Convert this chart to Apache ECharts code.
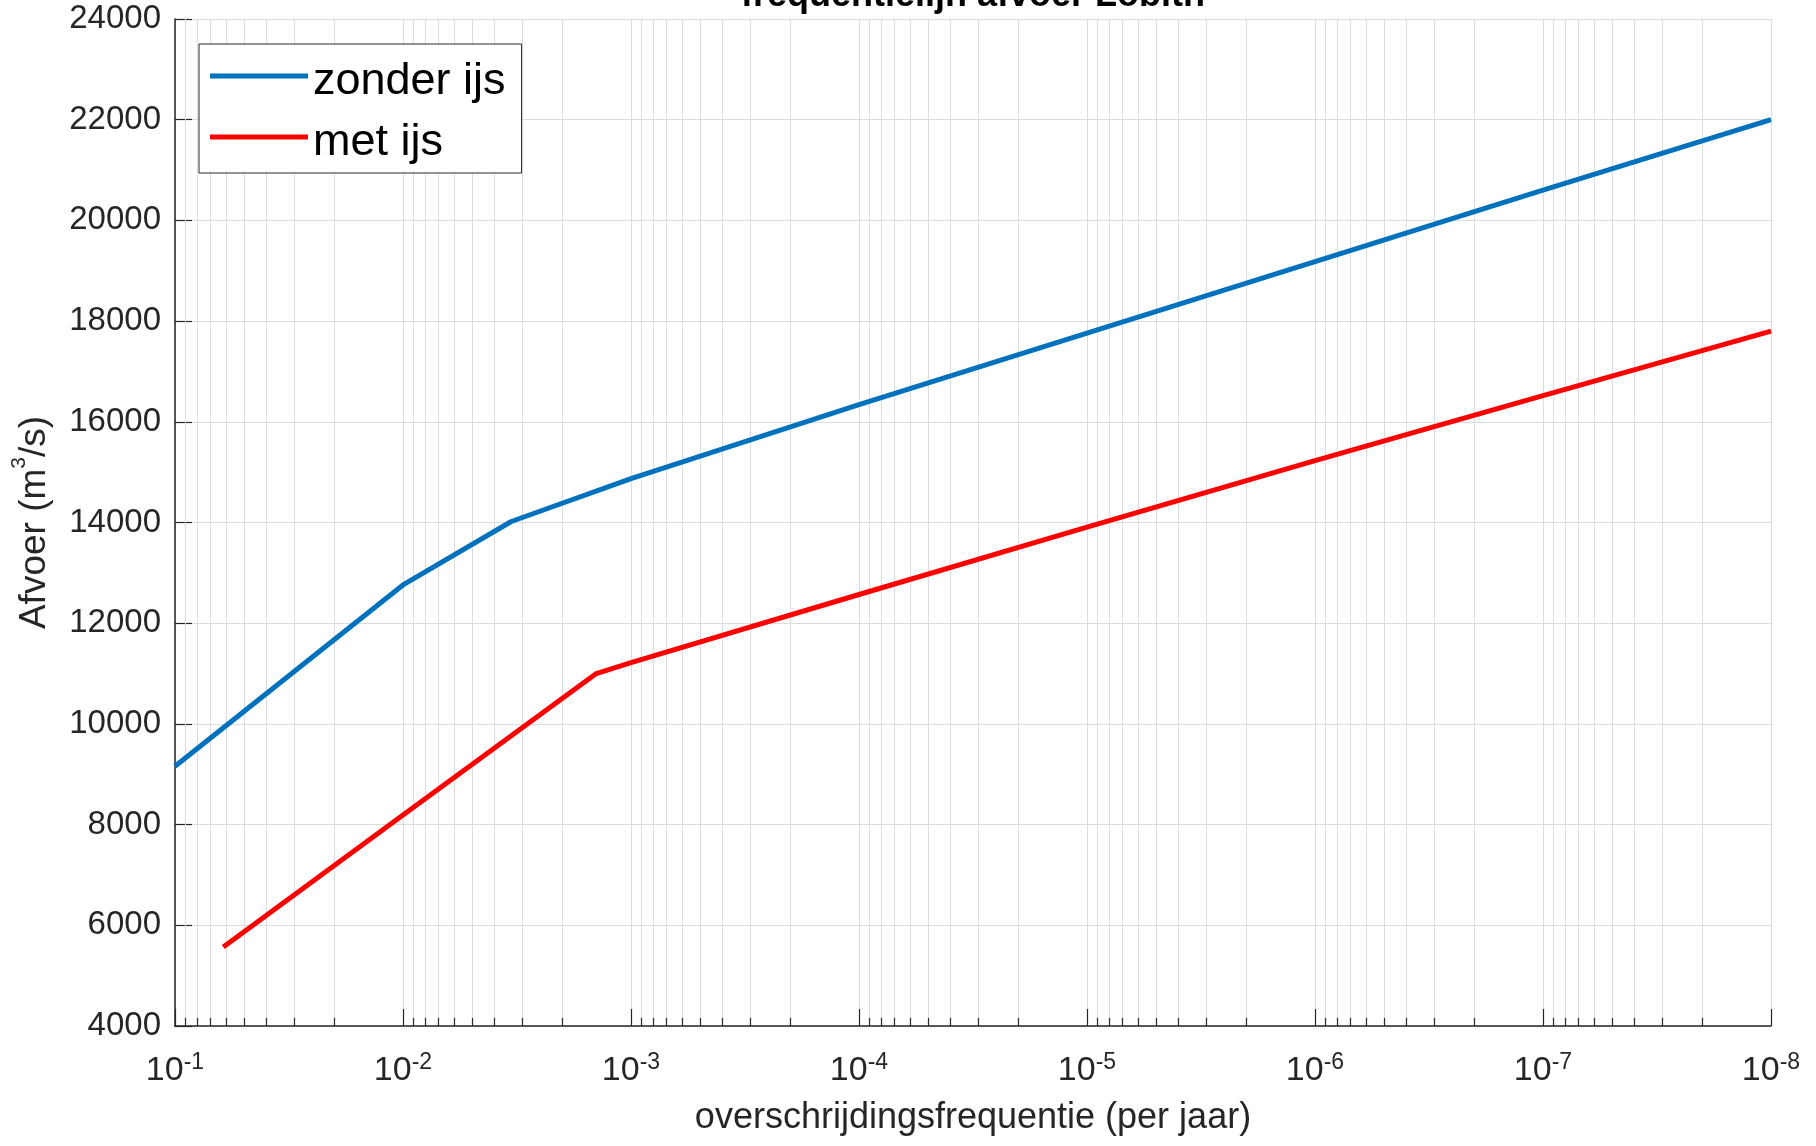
<!DOCTYPE html>
<html>
<head>
<meta charset="utf-8">
<script src="https://cdn.jsdelivr.net/npm/echarts@6/dist/echarts.min.js"></script>
<style>
html,body{margin:0;padding:0;background:#fff;}
#chart{width:1816px;height:1146px;}
</style>
</head>
<body>
<div id="chart"></div>
<script>
// ---- data ----
const titleText = 'frequentielijn afvoer Lobith';
const xAxisTitle = 'overschrijdingsfrequentie (per jaar)';
const seriesNames = ['zonder ijs', 'met ijs'];
const zonderFreq = [1e-1, 1e-2, 3.35e-3, 1e-3, 1e-4, 1e-5, 1e-6, 1e-7, 1e-8];
const zonderQ    = [9160, 12760, 14020, 14870, 16340, 17760, 19180, 20600, 22000];
const metFreq    = [6.14e-2, 1e-2, 1.42e-3, 1e-3, 1e-4, 1e-5, 1e-6, 1e-7, 1e-8];
const metQ       = [5570, 8190, 11000, 11215, 12570, 13910, 15230, 16520, 17800];
const yMin = 4000, yMax = 24000, yStep = 2000;
const xMinExp = -8, xMaxExp = -1;
const minorMultipliers = [2, 3, 4, 5, 6, 7, 8, 9];

// ---- helpers ----
const FONT = '"Liberation Sans", Arial, Helvetica, sans-serif';
const AX = '#262626';
const GRID = '#dcdcdc';
const zip = (xs, ys) => xs.map((x, i) => [x, ys[i]]);
const minorTicks = [];
for (let e = xMinExp; e < xMaxExp; e++) {
  minorMultipliers.forEach(k => minorTicks.push([k * Math.pow(10, e), yMin]));
}

const chart = echarts.init(document.getElementById('chart'), null, {renderer: 'canvas'});
chart.setOption({
  animation: false,
  backgroundColor: '#fff',
  grid: {left: 175, right: 45, top: 19, bottom: 120, containLabel: false},
  graphic: [{
    type: 'text', x: 973, y: -4, z: 10,
    style: {text: titleText, x: 0, y: 0, align: 'center', verticalAlign: 'middle',
      font: 'bold 36px ' + FONT, fill: '#000'}
  }],
  legend: {
    data: seriesNames,
    orient: 'vertical',
    left: 199, top: 44,
    padding: [14, 16, 6, 11],
    // bar sits in the upper part of the icon box so the line is slightly above the text centre
    icon: 'path://M0,0H98V5H0Z M0,17L0.001,17',
    itemWidth: 98, itemHeight: 17, itemGap: 13,
    backgroundColor: '#fff', borderColor: AX, borderWidth: 1, borderRadius: 0,
    textStyle: {fontSize: 45, lineHeight: 48, fontFamily: FONT, color: '#000'},
    selectedMode: false
  },
  xAxis: {
    type: 'log', logBase: 10, inverse: true,
    min: Math.pow(10, xMinExp), max: Math.pow(10, xMaxExp), interval: 1,
    name: xAxisTitle, nameLocation: 'middle', nameGap: 74,
    nameTextStyle: {fontSize: 36, lineHeight: 36, fontFamily: FONT, color: AX},
    axisLine: {show: true, onZero: false, lineStyle: {color: AX, width: 1.5}},
    axisTick: {show: true, inside: true, length: 17, lineStyle: {color: AX, width: 1.2}},
    splitLine: {show: true, lineStyle: {color: GRID, width: 1}},
    axisLabel: {
      margin: 25, fontSize: 34, showMinLabel: true, showMaxLabel: true, hideOverlap: false,
      formatter: v => '{n|10}{e|' + Math.round(Math.log10(v)) + '}',
      rich: {
        n: {fontSize: 34, lineHeight: 40, fontFamily: FONT, color: AX},
        e: {fontSize: 23, lineHeight: 23, verticalAlign: 'top', fontFamily: FONT, color: AX}
      }
    }
  },
  yAxis: {
    type: 'value', min: yMin, max: yMax, interval: yStep,
    name: '{a|Afvoer (m}{s|3}{a|/s)}', nameLocation: 'middle', nameGap: 120, nameRotate: 90,
    nameTextStyle: {
      rich: {
        a: {fontSize: 37, lineHeight: 46, fontFamily: FONT, color: AX, padding: [6, 0, 0, 0]},
        s: {fontSize: 21, lineHeight: 21, verticalAlign: 'top', fontFamily: FONT, color: AX}
      }
    },
    axisLine: {show: true, lineStyle: {color: AX, width: 1.5}},
    axisTick: {show: true, inside: true, length: 17, lineStyle: {color: AX, width: 1.2}},
    splitLine: {show: true, lineStyle: {color: GRID, width: 1}},
    axisLabel: {margin: 14, fontSize: 33, fontFamily: FONT, color: AX, padding: [9, 0, 0, 0],
      formatter: v => String(v)}
  },
  series: [
    {
      type: 'custom', name: 'minor', silent: true, z: 1, clip: true,
      data: minorTicks,
      encode: {x: 0, y: 1},
      renderItem: (params, api) => {
        const f = api.value(0);
        const top = api.coord([f, yMax]);
        const bot = api.coord([f, yMin]);
        const x = Math.round(top[0]) + 0.5;
        return {type: 'group', children: [
          {type: 'line', shape: {x1: x, y1: top[1], x2: x, y2: bot[1]}, style: {stroke: GRID, lineWidth: 1}},
          {type: 'line', shape: {x1: x, y1: bot[1], x2: x, y2: bot[1] - 8}, style: {stroke: AX, lineWidth: 1.2}}
        ]};
      }
    },
    {
      type: 'line', name: seriesNames[0], data: zip(zonderFreq, zonderQ),
      showSymbol: false, symbol: 'none', z: 5,
      lineStyle: {color: '#0072BD', width: 5}, itemStyle: {color: '#0072BD'}
    },
    {
      type: 'line', name: seriesNames[1], data: zip(metFreq, metQ),
      showSymbol: false, symbol: 'none', z: 5,
      lineStyle: {color: '#FF0000', width: 5}, itemStyle: {color: '#FF0000'}
    }
  ]
});
</script>
</body>
</html>
